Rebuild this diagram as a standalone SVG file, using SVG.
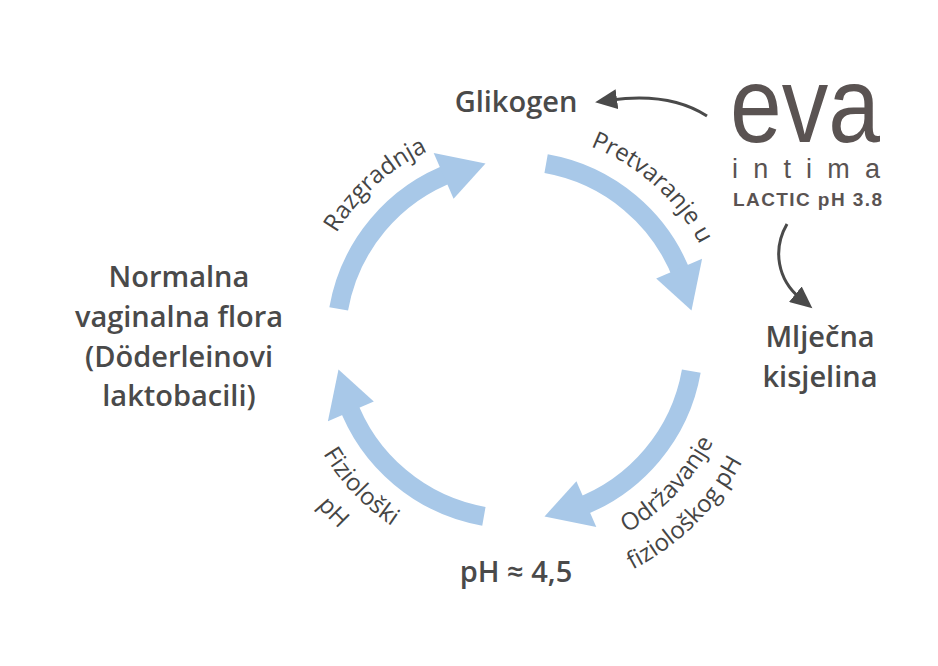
<svg xmlns="http://www.w3.org/2000/svg" width="938" height="666" viewBox="0 0 938 666">
<style>
.bold{font-family:"Open Sans","Liberation Sans",sans-serif;font-weight:600;font-size:29px;fill:#4a4a4a;text-anchor:middle}
.lbl{font-family:"Open Sans","Liberation Sans",sans-serif;font-weight:400;font-size:24px;fill:#454545;text-anchor:middle}
.shaft{fill:none;stroke:#a8c8e8;stroke-width:19}
.head{fill:#a8c8e8}
.gray{fill:none;stroke:#4a4a4a;stroke-width:3}
.logo{font-family:"Liberation Sans",Arial,sans-serif;fill:#5a5352}
</style>
<defs>
<marker id="ah" markerUnits="userSpaceOnUse" markerWidth="24" markerHeight="20" refX="6" refY="10" orient="auto">
<path d="M0,0 L22,10 L0,20 z" fill="#4a4a4a"/>
</marker>
<g id="cyc">
<path class="shaft" d="M338.7,308.9 A179,179 0 0 1 453.8,171.8"/>
<polygon class="head" points="433.7,152.9 485.5,163.5 453.6,198.8"/>
</g>
<path id="p-raz" d="M317.2,275.7 A208,208 0 0 1 471.8,136.6"/>
<path id="p-pre" d="M558.2,136.6 A208,208 0 0 1 712.8,275.7"/>
<path id="p-odr" d="M578.3,553.8 A223,223 0 0 0 731.8,392.1"/>
<path id="p-fiz2" d="M579.6,589.8 A258,258 0 0 0 763.6,408.9"/>
<path id="p-fizi" d="M298.2,392.4 A223,223 0 0 0 452.0,553.9"/>
<path id="p-ph" d="M264.1,400.2 A258,258 0 0 0 441.7,587.4"/>
</defs>
<rect width="938" height="666" fill="#ffffff"/>
<g id="connectors">
<use href="#cyc"/>
<use href="#cyc" transform="rotate(90 515 340)"/>
<use href="#cyc" transform="rotate(180 515 340)"/>
<use href="#cyc" transform="rotate(270 515 340)"/>
<path class="gray" d="M707,116 Q670,92 611,100" marker-end="url(#ah)"/>
<path class="gray" d="M787,224 C772,250 778,280 800,298" marker-end="url(#ah)"/>
</g>
<g id="labels">
<text class="lbl"><textPath href="#p-raz" startOffset="50%">Razgradnja</textPath></text>
<text class="lbl"><textPath href="#p-pre" startOffset="50%">Pretvaranje u</textPath></text>
<text class="lbl"><textPath href="#p-odr" startOffset="50%">Održavanje</textPath></text>
<text class="lbl"><textPath href="#p-fiz2" startOffset="50%">fiziološkog pH</textPath></text>
<text class="lbl"><textPath href="#p-fizi" startOffset="50%">Fiziološki</textPath></text>
<text class="lbl"><textPath href="#p-ph" startOffset="50%">pH</textPath></text>
</g>
<g id="node-glikogen"><text class="bold" x="516" y="112">Glikogen</text></g>
<g id="node-flora">
<text class="bold" x="179" y="287">Normalna</text>
<text class="bold" x="179" y="326.5">vaginalna flora</text>
<text class="bold" x="179" y="366.5">(Döderleinovi</text>
<text class="bold" x="179" y="406">laktobacili)</text>
</g>
<g id="node-mlijecna">
<text class="bold" x="820" y="347">Mlječna</text>
<text class="bold" x="820" y="387">kisjelina</text>
</g>
<g id="node-ph"><text class="bold" x="516" y="582">pH ≈ 4,5</text></g>
<g id="node-eva">
<text class="logo" x="730" y="142" font-size="108" textLength="150" lengthAdjust="spacingAndGlyphs">eva</text>
<text class="logo" x="732" y="178" font-size="27" textLength="148" lengthAdjust="spacing" fill="#6a6363">intima</text>
<text class="logo" x="733" y="206" font-size="19" font-weight="700" textLength="149" lengthAdjust="spacing" fill="#555">LACTIC pH 3.8</text>
</g>
</svg>
